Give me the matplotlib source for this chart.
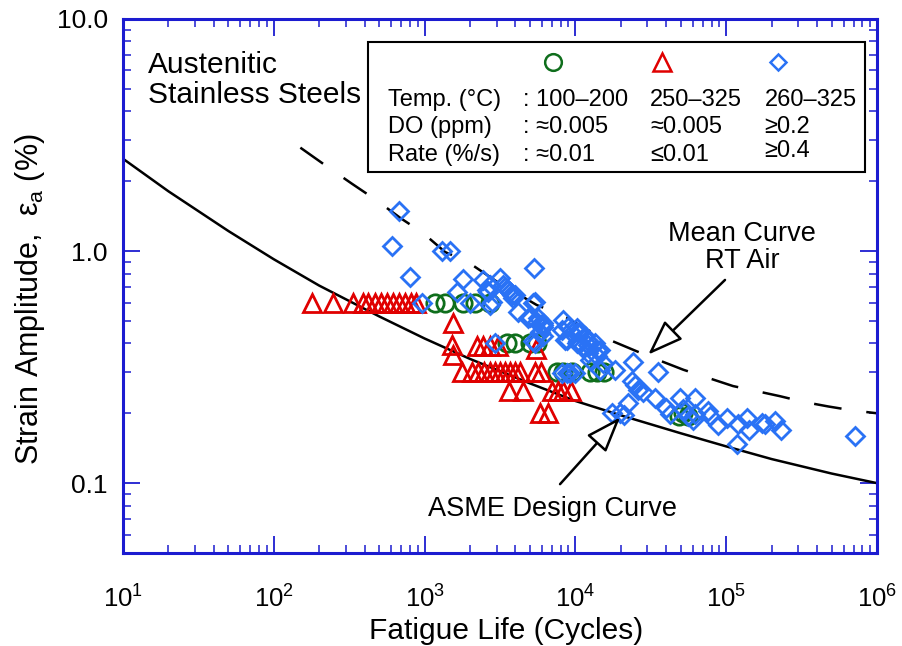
import matplotlib
matplotlib.use('Agg')
import matplotlib.pyplot as plt
from matplotlib.patches import Rectangle
from matplotlib.ticker import LogLocator, NullFormatter

plt.rcParams['font.family'] = ['Liberation Sans', 'DejaVu Sans']
plt.rcParams['mathtext.fontset'] = 'custom'
plt.rcParams['mathtext.rm'] = 'Liberation Sans'
plt.rcParams['mathtext.it'] = 'Liberation Sans'
plt.rcParams['mathtext.bf'] = 'Liberation Sans:bold'
plt.rcParams['lines.scale_dashes'] = False

# ---------------- data ----------------
design_N = [10, 20, 50, 100, 200, 500, 1000, 2000, 5000, 1e4, 2e4, 5e4, 1e5, 2e5, 5e5, 1e6]
design_eps = [2.50, 1.81, 1.22, 0.922, 0.71, 0.523, 0.42, 0.343, 0.269, 0.226, 0.196, 0.164, 0.144, 0.127, 0.11, 0.10]

mean_N = [150, 220, 330, 470, 700, 970, 1370, 1920, 3000, 5530, 8530, 11950, 17800, 25500,
          37300, 52000, 76100, 111000, 160000, 227000, 325000, 475000, 680000, 1e6]
mean_eps = [2.79, 2.34, 1.95, 1.67, 1.38, 1.20, 0.99, 0.90, 0.74, 0.586, 0.522, 0.458, 0.408, 0.370,
            0.335, 0.308, 0.284, 0.262, 0.249, 0.237, 0.224, 0.214, 0.206, 0.200]

green_N = [1170, 1370, 1810, 2160, 2720, 3500, 3980, 5000, 5540,
           7550, 8280, 9490, 12500, 13900, 15500, 49000, 52000, 55700]
green_eps = [0.60, 0.60, 0.60, 0.60, 0.60, 0.40, 0.40, 0.40, 0.40,
             0.30, 0.30, 0.30, 0.30, 0.30, 0.30, 0.195, 0.20, 0.195]

red_N = [178, 247, 335, 391, 422, 469, 514, 563, 617, 676, 741, 813, 877,
         1550, 1510, 1550, 2210, 2450, 2720, 3080, 5450,
         1770, 2060, 2260, 2480, 2720, 2930, 3160, 3410, 3680, 3980, 4290, 5400, 5920,
         3630, 4500, 7000, 7680, 8280, 9350, 5820, 6580]
red_eps = [0.60, 0.60, 0.60, 0.60, 0.60, 0.60, 0.60, 0.60, 0.60, 0.60, 0.60, 0.60, 0.60,
           0.49, 0.395, 0.358, 0.388, 0.388, 0.388, 0.388, 0.38,
           0.30, 0.30, 0.30, 0.30, 0.30, 0.30, 0.30, 0.30, 0.30, 0.30, 0.30, 0.30, 0.30,
           0.25, 0.25, 0.25, 0.25, 0.25, 0.25, 0.20, 0.20]

blue_N = [605, 680, 800, 957, 1298, 1473, 1633, 1806, 2000,
          2449, 2582, 2716, 2786, 2643, 2930, 2716,
          3162, 3326, 3413, 3591, 3783, 3873, 3981, 3684,
          4182, 4874, 5000, 5260, 5400, 5310, 5260, 5400,
          5540, 5670, 6120, 6120, 5820, 6120, 5820, 6120,
          8310, 8970, 8110, 8530, 8750, 9440, 10200, 10730, 10450, 10200, 11280, 11580,
          11880, 12190, 13150, 13490, 13840, 14560, 13840, 15310, 12190, 12500, 10200,
          8110, 8750, 9200, 9930, 14560, 18320,
          24210, 35480, 23610, 24830, 26120, 28180, 22440, 17410, 19760, 20990,
          33960, 39600, 42380, 49430, 62090, 51990, 55800, 60260, 62090, 76050, 78150,
          88700, 100700, 117500, 120300, 138400, 141600, 171900, 182200, 210800, 229300, 714500]
blue_eps = [1.05, 1.49, 0.77, 0.596, 1.00, 1.00, 0.667, 0.755, 0.596,
            0.751, 0.68, 0.715, 0.606, 0.669, 0.402, 0.587,
            0.764, 0.715, 0.703, 0.68, 0.647, 0.627, 0.647, 0.669,
            0.549, 0.514, 0.522, 0.596, 0.604, 0.845, 0.408, 0.402,
            0.497, 0.514, 0.492, 0.481, 0.45, 0.429, 0.443, 0.473,
            0.506, 0.473, 0.458, 0.415, 0.415, 0.443, 0.45, 0.45, 0.408, 0.402, 0.388, 0.429,
            0.415, 0.395, 0.388, 0.402, 0.376, 0.376, 0.352, 0.33, 0.364, 0.34, 0.466,
            0.299, 0.299, 0.299, 0.299, 0.308, 0.308,
            0.334, 0.301, 0.275, 0.266, 0.253, 0.247, 0.222, 0.200, 0.201, 0.196,
            0.233, 0.211, 0.199, 0.233, 0.233, 0.208, 0.194, 0.188, 0.198, 0.204, 0.194,
            0.178, 0.191, 0.148, 0.179, 0.191, 0.170, 0.182, 0.179, 0.185, 0.170, 0.160]

x_ticks = [1e1, 1e2, 1e3, 1e4, 1e5, 1e6]
x_ticklabels = [r'$10^{1}$', r'$10^{2}$', r'$10^{3}$', r'$10^{4}$', r'$10^{5}$', r'$10^{6}$']
y_ticks = [0.1, 1.0, 10.0]
y_ticklabels = ['0.1', '1.0', '10.0']

legend_rows = ['Temp. (°C)', 'DO (ppm)', 'Rate (%/s)']
legend_col1 = [': 100–200', ': ≈0.005', ': ≈0.01']
legend_col2 = ['250–325', '≈0.005', '≤0.01']
legend_col3 = ['260–325', '≥0.2', '≥0.4']

# ---------------- style ----------------
GREEN = '#0f6e1c'
RED = '#e00000'
BLUE = '#2a72f5'
FRAME = '#1c1cd0'

fig = plt.figure(figsize=(9.03, 6.46), dpi=100)
ax = fig.add_axes([123 / 903, 1 - 553 / 646, 754 / 903, 534 / 646])
ax.set_xscale('log')
ax.set_yscale('log')
ax.set_xlim(10, 1e6)
ax.set_ylim(0.05, 10)

ax.plot(design_N, design_eps, color='black', lw=1.8, zorder=2)
ax.plot(mean_N, mean_eps, color='black', lw=1.8, dashes=(20, 18), zorder=2)

ax.plot(green_N, green_eps, ls='none', marker='o', ms=12.5, mfc='none', mec=GREEN, mew=2.0, zorder=3)
ax.plot(red_N, red_eps, ls='none', marker='^', ms=13.5, mfc='none', mec=RED, mew=2.0, zorder=3)
ax.plot(blue_N, blue_eps, ls='none', marker='D', ms=9.2, mfc='none', mec=BLUE, mew=2.0, zorder=4)

for s in ax.spines.values():
    s.set_color(FRAME)
    s.set_linewidth(2.2)

ax.set_xticks(x_ticks)
ax.set_xticklabels(x_ticklabels)
ax.set_yticks(y_ticks)
ax.set_yticklabels(y_ticklabels)
ax.xaxis.set_minor_locator(LogLocator(base=10, subs=range(2, 10), numticks=20))
ax.yaxis.set_minor_locator(LogLocator(base=10, subs=range(2, 10), numticks=20))
ax.xaxis.set_minor_formatter(NullFormatter())
ax.yaxis.set_minor_formatter(NullFormatter())
ax.tick_params(which='both', direction='in', top=True, right=True, color=FRAME, labelcolor='black')
ax.tick_params(which='major', length=12.5, width=1.3)
ax.tick_params(which='minor', length=6, width=1.1)
ax.tick_params(axis='x', which='major', labelsize=18.5, pad=23)
ax.tick_params(axis='y', which='major', labelsize=19, pad=11)

fig.text(506 / 903, 1 - 631 / 646, 'Fatigue Life (Cycles)', fontsize=21.5, ha='center', va='center')
fig.text(30 / 903, 1 - 299 / 646, r'Strain Amplitude,  $\varepsilon_{a}$ (%)', fontsize=22,
         ha='center', va='center', rotation=90)

ax.text(0.033, 0.886, 'Austenitic\nStainless Steels', transform=ax.transAxes, fontsize=21.5,
        ha='left', va='center', linespacing=1.1)

# legend box
ax.add_patch(Rectangle((0.3253, 0.714), 0.984 - 0.3253, 0.9575 - 0.714, transform=ax.transAxes,
                       fc='white', ec='black', lw=1.5, zorder=5))
ax.plot([0.570], [0.920], transform=ax.transAxes, marker='o', ms=12, mfc='none', mec=GREEN, mew=1.8,
        zorder=6, clip_on=False)
ax.plot([0.7145], [0.920], transform=ax.transAxes, marker='^', ms=13, mfc='none', mec=RED, mew=1.8,
        zorder=6, clip_on=False)
ax.plot([0.869], [0.920], transform=ax.transAxes, marker='D', ms=8.5, mfc='none', mec=BLUE, mew=1.8,
        zorder=6, clip_on=False)
row_y = [0.848, 0.798, 0.745]
for i in range(3):
    ax.text(0.352, row_y[i], legend_rows[i], transform=ax.transAxes, fontsize=17, va='center', zorder=6)
    ax.text(0.531, row_y[i], legend_col1[i], transform=ax.transAxes, fontsize=17, va='center', zorder=6)
    ax.text(0.699, row_y[i], legend_col2[i], transform=ax.transAxes, fontsize=17, va='center', zorder=6)
    yy = row_y[i] + (0.008 if i == 2 else 0)
    ax.text(0.851, yy, legend_col3[i], transform=ax.transAxes, fontsize=17, va='center', zorder=6)

# annotations
arrow = dict(arrowstyle='-|>,head_length=1.1,head_width=0.4', lw=1.8, edgecolor='black',
             facecolor='white', mutation_scale=20, shrinkA=0, shrinkB=0)
ax.annotate('', xy=(30400, 0.358), xytext=(98200, 0.751), arrowprops=arrow, zorder=6)
ax.annotate('', xy=(19800, 0.192), xytext=(7910, 0.099), arrowprops=arrow, zorder=6)
ax.text(127000, 1.04, 'Mean Curve\nRT Air', fontsize=19.5, ha='center', va='center', linespacing=1.05)
ax.text(7100, 0.0774, 'ASME Design Curve', fontsize=19.5, ha='center', va='center')

fig.savefig('out.png', dpi=100)
